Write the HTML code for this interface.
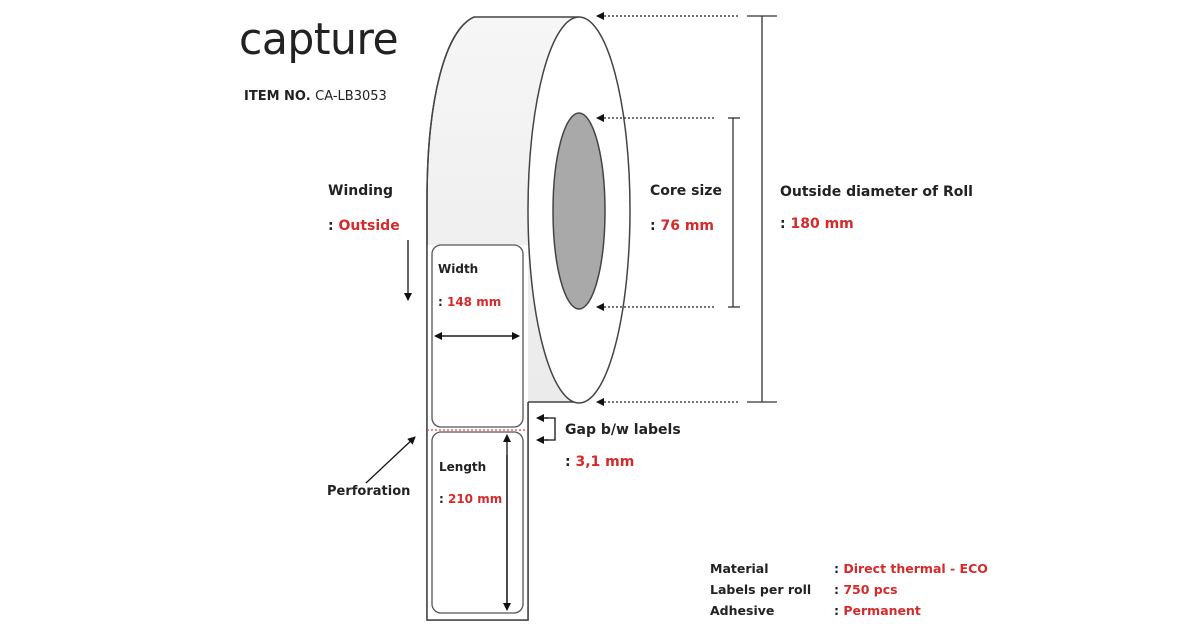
<!DOCTYPE html>
<html><head><meta charset="utf-8"><style>
html,body{margin:0;padding:0;background:#fff;}
body{width:1200px;height:630px;overflow:hidden;position:relative;font-family:"DejaVu Sans","Liberation Sans",sans-serif;}
.t{position:absolute;font-size:13px;font-weight:bold;color:#222;white-space:nowrap;}
.r{color:#d42a2a;}
</style></head><body>
<svg width="1200" height="630" style="position:absolute;left:0;top:0">
<defs>
<linearGradient id="g" x1="0" y1="0" x2="0" y2="1">
<stop offset="0" stop-color="#f6f6f6"/><stop offset="1" stop-color="#e4e4e4"/></linearGradient>
<marker id="a" markerWidth="8" markerHeight="8" refX="7" refY="4" orient="auto" markerUnits="userSpaceOnUse"><path d="M0,0 L8,4 L0,8 z" fill="#111"/></marker>
</defs>
<path d="M474,17 L578,17 L578,402 L528,402 L528,620 L427,620 L427,200 C427,100 445,30 474,17 Z" fill="url(#g)" stroke="#444" stroke-width="1.5"/>
<path d="M427,245 L528,245 L528,620 L427,620 Z" fill="#fff" stroke="none"/>
<path d="M474,17 C445,30 427,100 427,200 L427,620 L528,620 L528,402" fill="none" stroke="#444" stroke-width="1.5"/>
<ellipse cx="579" cy="210" rx="51" ry="193" fill="#fff" stroke="#444" stroke-width="1.5"/>
<ellipse cx="579" cy="211" rx="26" ry="98" fill="#a9a9a9" stroke="#444" stroke-width="1.5"/>
<rect x="432" y="245" width="91" height="182" rx="9" fill="#fff" stroke="#555" stroke-width="1.3"/>
<rect x="432" y="432" width="91" height="181" rx="9" fill="#fff" stroke="#555" stroke-width="1.3"/>
<line x1="427" y1="430" x2="528" y2="430" stroke="#e04040" stroke-width="1.3" stroke-dasharray="2,2"/>
<g stroke="#222" stroke-width="1.2" stroke-dasharray="2,2" marker-end="url(#a)">
<line x1="738" y1="16" x2="597" y2="16"/>
<line x1="714" y1="118" x2="597" y2="118"/>
<line x1="714" y1="307" x2="597" y2="307"/>
<line x1="738" y1="402" x2="597" y2="402"/>
</g>
<g stroke="#333" stroke-width="1.3" fill="none">
<line x1="733" y1="118" x2="733" y2="307"/><line x1="728" y1="118" x2="740" y2="118"/><line x1="728" y1="307" x2="740" y2="307"/>
<line x1="762" y1="16" x2="762" y2="402"/><line x1="747" y1="16" x2="777" y2="16"/><line x1="747" y1="402" x2="777" y2="402"/>
</g>
<g stroke="#111" stroke-width="1.3" fill="none">
<line x1="442" y1="336" x2="519" y2="336" marker-end="url(#a)"/>
<line x1="512" y1="336" x2="435" y2="336" marker-end="url(#a)"/>
<line x1="507" y1="455" x2="507" y2="610" marker-end="url(#a)"/>
<line x1="507" y1="605" x2="507" y2="435" marker-end="url(#a)"/>
<line x1="408" y1="240" x2="408" y2="300" marker-end="url(#a)"/>
<line x1="366" y1="483" x2="415" y2="437" marker-end="url(#a)"/>
<polyline points="545,418 555,418 555,440 545,440"/>
<line x1="548" y1="418" x2="537" y2="418" marker-end="url(#a)"/>
<line x1="548" y1="440" x2="537" y2="440" marker-end="url(#a)"/>
</g>
</svg>
<div style="position:absolute;left:239px;top:14px;font-family:'DejaVu Sans','Liberation Sans',sans-serif;font-size:44px;font-weight:normal;color:#222;transform:scaleX(0.965);transform-origin:left;letter-spacing:-0.5px">capture</div>
<div class="t" style="left:244px;top:89px;font-size:13px;font-weight:bold">ITEM NO. <span style="font-weight:normal">CA-LB3053</span></div>
<div class="t" style="left:328px;top:183px;font-size:14px">Winding</div>
<div class="t" style="left:328px;top:218px;font-size:14px">: <span class="r">Outside</span></div>
<div class="t" style="left:438px;top:262px;font-size:12px">Width</div>
<div class="t" style="left:438px;top:295px;font-size:12px">: <span class="r">148 mm</span></div>
<div class="t" style="left:439px;top:460px;font-size:12px">Length</div>
<div class="t" style="left:439px;top:492px;font-size:12px">: <span class="r">210 mm</span></div>
<div class="t" style="left:327px;top:484px;font-size:13px">Perforation</div>
<div class="t" style="left:650px;top:183px;font-size:14px">Core size</div>
<div class="t" style="left:650px;top:218px;font-size:14px">: <span class="r">76 mm</span></div>
<div class="t" style="left:780px;top:184px;font-size:14px">Outside diameter of Roll</div>
<div class="t" style="left:780px;top:216px;font-size:14px">: <span class="r">180 mm</span></div>
<div class="t" style="left:565px;top:422px;font-size:14px">Gap b/w labels</div>
<div class="t" style="left:565px;top:454px;font-size:14px">: <span class="r">3,1 mm</span></div>
<div class="t" style="left:710px;top:561px;font-size:12.5px">Material</div>
<div class="t" style="left:710px;top:582px;font-size:12.5px">Labels per roll</div>
<div class="t" style="left:710px;top:603px;font-size:12.5px">Adhesive</div>
<div class="t" style="left:834px;top:561px;font-size:12.5px">: <span class="r">Direct thermal - ECO</span></div>
<div class="t" style="left:834px;top:582px;font-size:12.5px">: <span class="r">750 pcs</span></div>
<div class="t" style="left:834px;top:603px;font-size:12.5px">: <span class="r">Permanent</span></div>
</body></html>
